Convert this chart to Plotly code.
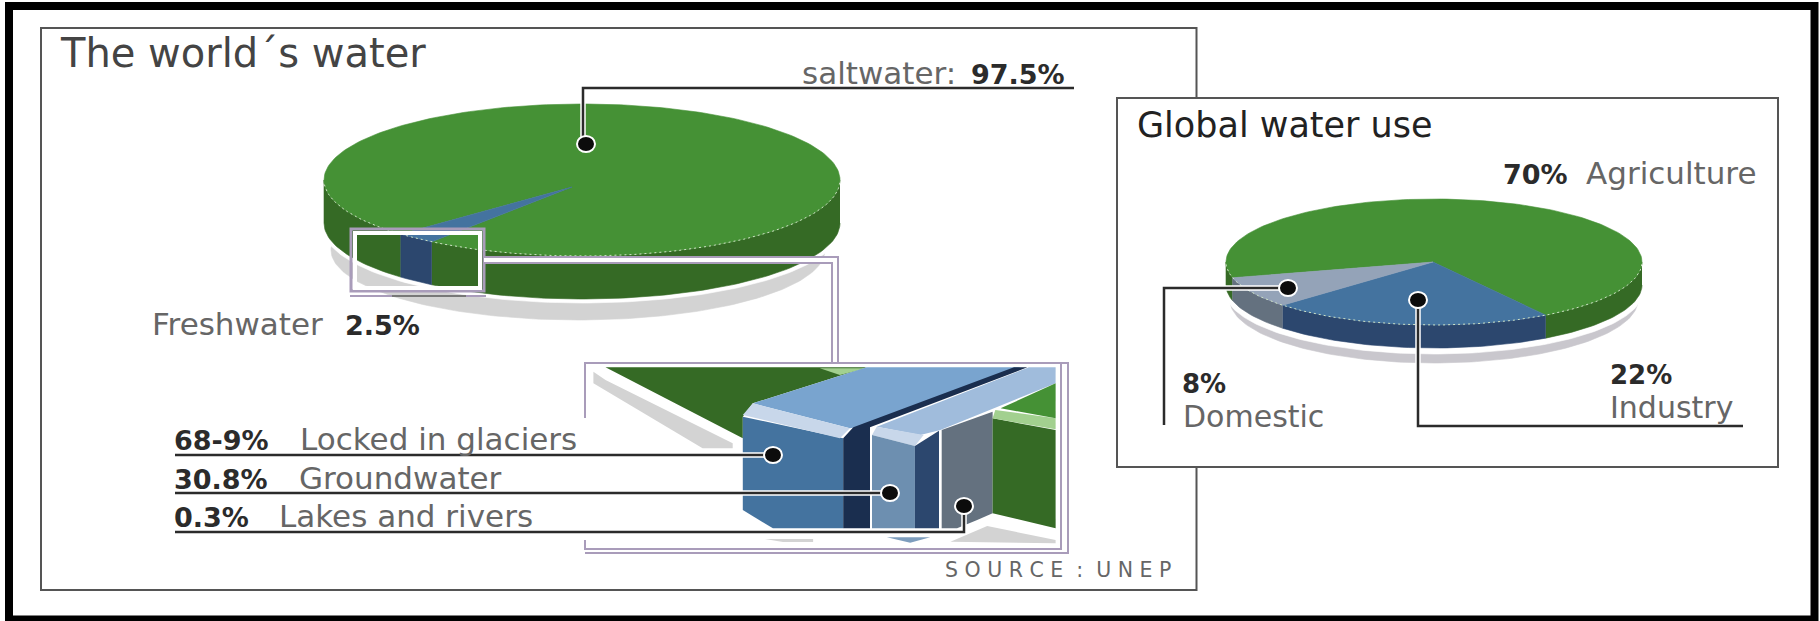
import math
import plotly.graph_objects as go

WORLD_LABELS = ["saltwater", "Freshwater"]
WORLD_VALUES = [97.5, 2.5]
WORLD_COLORS = ["#459135", "#44739f"]
WORLD_SIDES = ["#356a25", "#2c476e"]
USE_LABELS = ["Agriculture", "Industry", "Domestic"]
USE_VALUES = [70, 22, 8]
USE_COLORS = ["#459135", "#44739f", "#94a3b8"]
USE_SIDES = ["#356a25", "#2c476e", "#64717f"]
FRESH_VALUES = ["68-9%", "30.8%", "0.3%"]
FRESH_LABELS = ["Locked in glaciers", "Groundwater", "Lakes and rivers"]

W, H = 1820, 621
DARK, GREY, LAV = "#2b2b2b", "#666666", "#a99cba"
FONT = "DejaVu Sans"
fig = go.Figure()


def rim(cx, cy, rx, ry, a0, a1, dy=0, step=1.5):
    n = max(2, int(abs(a1 - a0) / step))
    pts = [a0 + (a1 - a0) * i / n for i in range(n + 1)]
    return ([cx + rx * math.sin(math.radians(a)) for a in pts],
            [cy + dy - ry * math.cos(math.radians(a)) for a in pts])


def poly(xs, ys, color, name="", line=None):
    fig.add_trace(go.Scatter(x=xs, y=ys, fill="toself", fillcolor=color, mode="lines",
                             line=dict(color=line or color, width=0.6), name=name,
                             hoverinfo="name", showlegend=False))


def pie3d(labels, values, colors, sides, cx, cy, rx, ry, depth, start, apex, shadow, gap):
    sx, sy, srx, sry, scol = shadow
    xs, ys = rim(sx, sy, srx, sry, 0, 360)
    poly(xs, ys, scol)
    xs, ys = rim(cx, cy + depth + gap, rx + 1, ry, 0, 360)
    poly(xs, ys, "#ffffff")
    wedges, a = [], start
    for lab, v, c, s in zip(labels, values, colors, sides):
        b = a + v * 3.6
        wedges.append((lab, a, b, c, s))
        a = b
    for lab, a, b, c, s in wedges:
        for lo, hi in ((90, 270), (450, 630), (-270, -90)):
            p, q = max(a, lo), min(b, hi)
            if q > p:
                x1, y1 = rim(cx, cy, rx, ry, p, q)
                x2, y2 = rim(cx, cy, rx, ry, q, p, dy=depth)
                poly(x1 + x2, y1 + y2, s, lab)
    for lab, a, b, c, s in wedges:
        x1, y1 = rim(cx, cy, rx, ry, a, b)
        poly([apex[0]] + x1 + [apex[0]], [apex[1]] + y1 + [apex[1]], c, lab)
    xs, ys = rim(cx, cy, rx, ry, 92, 268)
    fig.add_trace(go.Scatter(x=xs, y=ys, mode="lines", showlegend=False, hoverinfo="skip",
                             line=dict(color="#cfe3c6", width=1, dash="2px,3px")))


pie3d(WORLD_LABELS, WORLD_VALUES, WORLD_COLORS, WORLD_SIDES, 582, 180, 258, 76, 43, 224.6,
      (572, 187), (578, 250, 247, 70, "#d3d3d3"), 4)
pie3d(USE_LABELS, USE_VALUES, USE_COLORS, USE_SIDES, 1434, 262, 208, 63, 23, 255.5,
      (1433, 262), (1434, 300, 204, 63, "#c9c7cd"), 6)

shapes = []


def rect(x0, y0, x1, y1, line="#555555", width=2, fill=None, layer="above"):
    shapes.append(dict(type="rect", x0=x0, y0=y0, x1=x1, y1=y1, layer=layer, fillcolor=fill,
                       line=dict(color=line, width=width)))


def seg(pts, color=DARK, width=2.5, halo=False):
    d = "M " + " L ".join(f"{x},{y}" for x, y in pts)
    if halo:
        shapes.append(dict(type="path", path=d, layer="above", line=dict(color="#ffffff", width=5.5)))
    shapes.append(dict(type="path", path=d, layer="above", line=dict(color=color, width=width)))


def dot(x, y):
    shapes.append(dict(type="circle", x0=x - 9, x1=x + 9, y0=y - 8, y1=y + 8, layer="above",
                       fillcolor="#0c0c0c", line=dict(color="#ffffff", width=2)))


def art(pts, color):
    d = "M " + " L ".join(f"{150 + x / 1.493:.1f},{340 + y / 3:.1f}" for x, y in pts) + " Z"
    shapes.append(dict(type="path", path=d, layer="above", fillcolor=color, line=dict(width=0)))


# page frames
rect(9, 6, 1814.5, 619.5, line="#000000", width=8, layer="below")
rect(41, 28, 1196.5, 590, layer="below", fill="#ffffff")
rect(1117, 98, 1778, 467, layer="below", fill="#ffffff")

# callout box on the world pie
rect(351, 229, 484, 291, line=LAV, width=3)
rect(355, 233, 480, 288, line="#ffffff", width=4)
seg([(350, 296), (486, 296)], LAV, 2)
seg([(392, 296), (466, 296)], "#777777", 2)
seg([(484, 260), (835, 260)], "#ffffff", 6)
seg([(835, 257), (835, 362)], "#ffffff", 6)
seg([(484, 257), (838, 257), (838, 362)], LAV, 2)
seg([(484, 263), (832, 263), (832, 362)], LAV, 2)

# enlarged view
rect(585, 363, 1061, 549, line=LAV, fill="#ffffff")
seg([(585, 553), (1068, 553), (1068, 363), (1061, 363)], LAV, 2)
shapes.append(dict(type="rect", x0=578, x1=592, y0=418, y1=540, layer="above",
                   fillcolor="#ffffff", line=dict(width=0)))
art([(662, 95), (680, 120), (870, 310), (870, 325), (825, 325), (662, 130)], "#d3d3d3")
art([(680, 82), (1070, 82), (900, 190), (885, 230), (885, 295)], "#356a25")
art([(1000, 85), (1070, 85), (1030, 105)], "#a2d08f")
art([(900, 190), (1070, 82), (1300, 82), (1060, 260), (1045, 265)], "#79a4cf")
art([(885, 230), (1035, 295), (1035, 565), (930, 565), (885, 510)], "#44739f")
art([(900, 190), (885, 225), (1030, 295), (1045, 265)], "#c8d7ea")
art([(1035, 295), (1050, 262), (1290, 82), (1310, 82), (1075, 262), (1075, 565), (1035, 565)], "#1a2e4f")
art([(1085, 260), (1312, 82), (1352, 82), (1352, 130), (1180, 270), (1150, 285)], "#a0bcdc")
art([(1085, 260), (1078, 285), (1142, 318), (1155, 285)], "#c8d7ea")
art([(1078, 285), (1142, 318), (1142, 565), (1078, 565)], "#6d8fb0")
art([(1142, 318), (1178, 272), (1178, 565), (1142, 565)], "#2c476e")
art([(1182, 270), (1258, 215), (1258, 520), (1235, 540), (1205, 565), (1182, 565)], "#64717f")
art([(1258, 235), (1352, 270), (1352, 565), (1258, 520)], "#356a25")
art([(1262, 210), (1258, 235), (1352, 268), (1352, 235)], "#a2d08f")
art([(1270, 205), (1352, 130), (1352, 235)], "#459135")
art([(1195, 605), (1250, 558), (1352, 600), (1352, 610)], "#d3d3d3")
art([(1100, 592), (1165, 592), (1135, 608)], "#7d9dbd")
art([(918, 597), (990, 597), (990, 606), (945, 606)], "#d3d3d3")

# leader lines
seg([(1074, 88), (583, 88), (583, 144)], halo=True)
dot(586, 144)
seg([(175, 455), (773, 455)], halo=True)
dot(773, 455)
seg([(175, 493), (890, 493)], halo=True)
dot(890, 493)
seg([(175, 532), (964, 532), (964, 506)], halo=True)
dot(964, 506)
seg([(1164, 425), (1164, 288), (1288, 288)], halo=True)
dot(1288, 288)
seg([(1743, 426), (1418, 426), (1418, 300)], halo=True)
dot(1418, 300)


def label(x, base, text, size, color=GREY, bold=False):
    fig.add_annotation(x=x, y=base - 0.346 * size, text=text, showarrow=False, xanchor="left",
                       yanchor="middle",
                       font=dict(family=FONT, size=size, color=color, weight=700 if bold else 400),
                       borderpad=0, borderwidth=0)


T, V = 31, 27
label(60, 67, "The world´s water", 40, "#444444")
label(1137, 137, "Global water use", 35, "#222222")
label(802, 84, WORLD_LABELS[0] + ":", T, GREY)
label(971, 84, f"{WORLD_VALUES[0]}%", V, DARK, True)
label(152, 335, WORLD_LABELS[1], T, GREY)
label(345, 335, f"{WORLD_VALUES[1]}%", V, DARK, True)
for (base, px, lx), v, t in zip([(450, 174, 300), (489, 174, 299), (527, 174, 279)], FRESH_VALUES, FRESH_LABELS):
    label(px, base, v, V, DARK, True)
    label(lx, base, t, T, GREY)
label(945, 577, "S O U R C E \u00a0:\u00a0 U N E P", 20.5, GREY)
label(1503, 184, f"{USE_VALUES[0]}%", V, DARK, True)
label(1586, 184, USE_LABELS[0], T, GREY)
label(1610, 384, f"{USE_VALUES[1]}%", 26, DARK, True)
label(1610, 418, USE_LABELS[1], 30, GREY)
label(1182, 393, f"{USE_VALUES[2]}%", 26, DARK, True)
label(1183, 427, USE_LABELS[2], 30, GREY)

fig.update_layout(
    width=W, height=H, margin=dict(l=0, r=0, t=0, b=0), paper_bgcolor="#ffffff",
    plot_bgcolor="#ffffff", showlegend=False, shapes=shapes,
    xaxis=dict(range=[0, W], visible=False, fixedrange=True),
    yaxis=dict(range=[H, 0], visible=False, fixedrange=True),
)
fig.write_html("out.html", config=dict(displayModeBar=False),
               post_script="document.body.style.margin='0';document.body.style.overflow='hidden';")
